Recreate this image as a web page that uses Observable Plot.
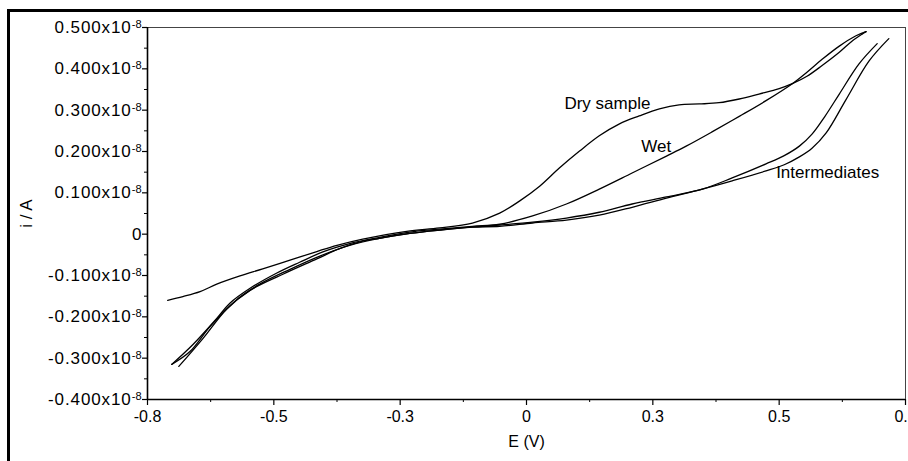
<!DOCTYPE html>
<html>
<head>
<meta charset="utf-8">
<script src="https://cdn.jsdelivr.net/npm/d3@7"></script>
<script src="https://cdn.jsdelivr.net/npm/@observablehq/plot@0.6"></script>
<style>
  html, body { margin: 0; padding: 0; background: #fff; overflow: hidden; width: 908px; height: 461px; }
  #wrap { position: relative; width: 908px; height: 461px; }
  #wrap svg { position: absolute; left: 0; top: 0; }
  #border { position: absolute; left: 7px; top: 9px; right: -10px; bottom: -10px;
            border-left: 3px solid #000; border-top: 3px solid #000; pointer-events: none; z-index: 2; }
</style>
</head>
<body>
<div id="wrap"><div id="border"></div></div>
<script>
// ---- data (current in units of 1e-8 A, potential in V) ----
const dryE = [-0.710,-0.680,-0.646,-0.613,-0.567,-0.522,-0.468,-0.415,-0.375,-0.324,-0.237,-0.172,-0.107,-0.053,-0.014,0.026,0.065,0.105,0.144,0.184,0.223,0.263,0.302,0.342,0.381,0.421,0.460,0.500,0.526,0.555,0.585,0.619,0.644,0.664,0.672];
const dryI = [-0.160,-0.151,-0.139,-0.121,-0.101,-0.084,-0.063,-0.042,-0.027,-0.012,0.007,0.015,0.027,0.051,0.080,0.116,0.160,0.201,0.238,0.267,0.286,0.303,0.313,0.315,0.318,0.327,0.339,0.352,0.364,0.382,0.408,0.440,0.467,0.484,0.490];

const wetE = [-0.702,-0.660,-0.613,-0.587,-0.547,-0.494,-0.449,-0.403,-0.350,-0.291,-0.231,-0.172,-0.107,-0.053,0.012,0.079,0.144,0.209,0.277,0.316,0.368,0.421,0.474,0.526,0.555,0.585,0.619,0.652,0.672];
const wetI = [-0.315,-0.267,-0.204,-0.167,-0.131,-0.094,-0.068,-0.043,-0.023,-0.008,0.005,0.012,0.019,0.024,0.044,0.073,0.109,0.148,0.189,0.213,0.248,0.285,0.323,0.364,0.392,0.423,0.455,0.480,0.490];

const int1E = [-0.688,-0.640,-0.593,-0.547,-0.482,-0.415,-0.370,-0.324,-0.291,-0.231,-0.172,-0.107,-0.053,0.012,0.079,0.144,0.209,0.277,0.348,0.407,0.474,0.510,0.540,0.565,0.590,0.619,0.658,0.694];
const int1I = [-0.320,-0.252,-0.181,-0.136,-0.097,-0.060,-0.035,-0.017,-0.010,0.002,0.010,0.017,0.022,0.029,0.039,0.053,0.073,0.090,0.109,0.136,0.170,0.190,0.213,0.242,0.284,0.339,0.412,0.461];

const int2E = [-0.702,-0.666,-0.626,-0.577,-0.528,-0.468,-0.409,-0.350,-0.291,-0.231,-0.172,-0.107,-0.053,0.012,0.079,0.144,0.209,0.277,0.348,0.407,0.474,0.510,0.540,0.565,0.593,0.632,0.678,0.717];
const int2I = [-0.315,-0.284,-0.223,-0.162,-0.121,-0.085,-0.053,-0.027,-0.010,0.002,0.010,0.017,0.019,0.027,0.034,0.046,0.065,0.087,0.109,0.129,0.153,0.168,0.187,0.208,0.245,0.325,0.419,0.473];

const curveLabels = ["Dry sample", "Wet", "Intermediates"];
const curveLabelE = [0.075, 0.227, 0.494];
const curveLabelI = [0.315, 0.211, 0.148];

const xTicks = [-0.75, -0.5, -0.25, 0, 0.25, 0.5, 0.75];
const xTickLabels = ["-0.8", "-0.5", "-0.3", "0", "0.3", "0.5", "0.8"];
const xMinorTicks = [-0.625, -0.375, -0.125, 0.125, 0.375, 0.625];
const yTicks = [-0.4, -0.3, -0.2, -0.1, 0, 0.1, 0.2, 0.3, 0.4, 0.5];
const yMinorTicks = [-0.35, -0.25, -0.15, -0.05, 0.05, 0.15, 0.25, 0.35, 0.45];

// ---- build table ----
const series = [
  {name: "Dry sample", E: dryE, I: dryI},
  {name: "Wet", E: wetE, I: wetI},
  {name: "Intermediates 1", E: int1E, I: int1I},
  {name: "Intermediates 2", E: int2E, I: int2I}
];
const rows = series.flatMap(s => s.E.map((e, i) => ({series: s.name, E: e, I: s.I[i]})));

const font = "'Liberation Sans', Arial, Helvetica, sans-serif";

const chart = Plot.plot({
  width: 908,
  height: 461,
  marginLeft: 147,
  marginRight: 3,
  marginTop: 27,
  marginBottom: 62,
  style: {fontFamily: font, fontSize: "16px", color: "#000", background: "transparent", overflow: "visible"},
  x: {domain: [-0.75, 0.75], axis: null},
  y: {domain: [-0.4, 0.5], axis: null},
  marks: [
    Plot.frame({stroke: "#444", strokeWidth: 1}),
    Plot.axisX({ticks: xMinorTicks, tickSize: 3, tickFormat: () => "", stroke: "#000", label: null}),
    Plot.axisY({ticks: yMinorTicks, tickSize: 3, tickFormat: () => "", stroke: "#000", label: null}),
    Plot.axisX({ticks: xTicks, tickSize: 6, tickPadding: 5, strokeWidth: 1.2,
      tickFormat: d => xTickLabels[xTicks.indexOf(d)],
      fontSize: 16, label: "E (V)", labelAnchor: "center", labelOffset: 47, labelArrow: "none"}),
    Plot.axisY({ticks: yTicks, tickSize: 5, tickPadding: 1, strokeWidth: 1.2,
      tickFormat: d => d === 0 ? "0" : d3.format(".3f")(d).replace("\u2212", "-") + "x10",
      fontSize: 17, label: "i / A", labelAnchor: "center", labelOffset: 128, labelArrow: "none"}),
    Plot.ruleY([-0.4], {stroke: "#000", strokeWidth: 1.6}),
    Plot.ruleX([-0.75], {stroke: "#000", strokeWidth: 1.6}),
    Plot.line(rows, {x: "E", y: "I", z: "series", stroke: "#000", strokeWidth: 1.3, curve: "catmull-rom"}),
    Plot.text(curveLabels, {x: (d, i) => curveLabelE[i], y: (d, i) => curveLabelI[i], text: d => d,
      textAnchor: "start", fontSize: 17, fill: "#000"})
  ]
});

// superscript exponent on y tick labels
d3.select(chart).selectAll("text").each(function() {
  const t = d3.select(this);
  const s = t.text();
  if (/x10$/.test(s)) {
    t.text(null);
    t.attr("letter-spacing", "0.9px");
    t.append("tspan").text(s);
    t.append("tspan").attr("dy", "-0.45em").attr("font-size", "11px").attr("letter-spacing", "0px").text("-8");
  }
});

document.getElementById("wrap").appendChild(chart);
</script>
</body>
</html>
